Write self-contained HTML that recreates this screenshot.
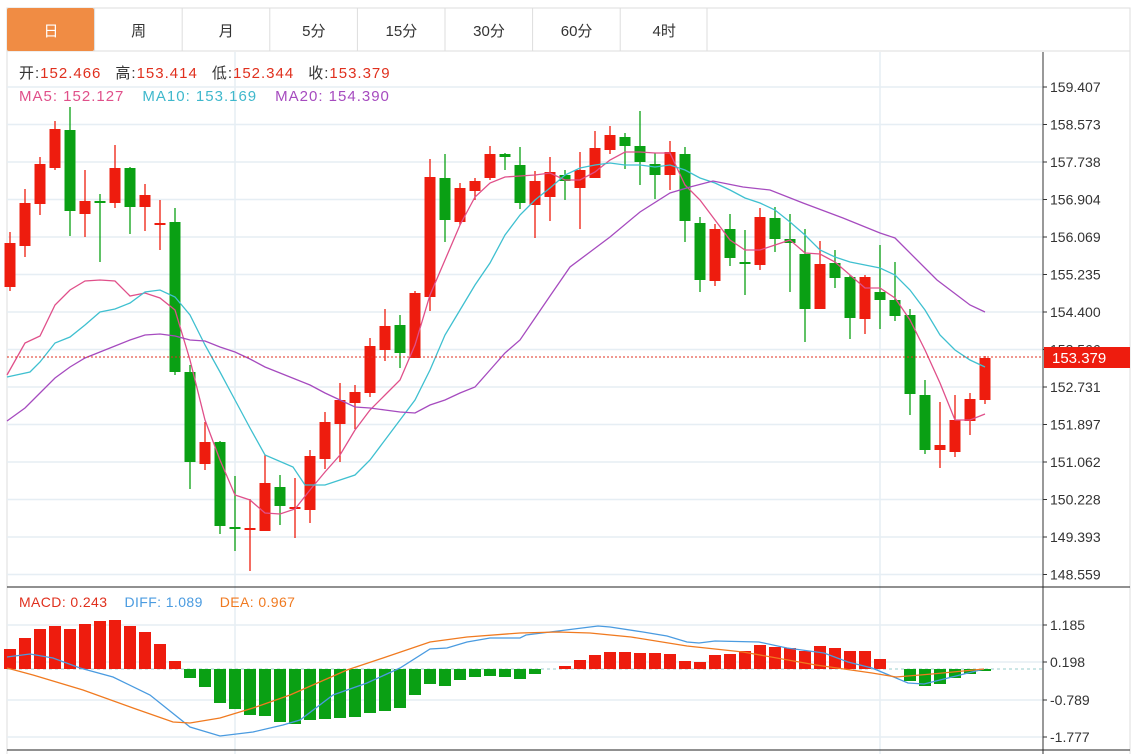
<!DOCTYPE html>
<html><head><meta charset="utf-8"><style>
body{margin:0;background:#fff;width:1141px;height:754px;overflow:hidden;font-family:"Liberation Sans","Noto Sans CJK SC",sans-serif}
svg{position:absolute;left:0;top:0}
</style></head><body>
<svg id="s" width="1141" height="754" xmlns="http://www.w3.org/2000/svg" font-family="Liberation Sans, Noto Sans CJK SC, sans-serif"></svg>
<script>
const s=document.getElementById('s');let h='';
h+='<rect x="7" y="8" width="1123" height="43" fill="#fff" stroke="#ddd"/>';
h+='<rect x="7" y="8" width="87" height="43" rx="2" fill="#f08c44"/>';
const tabs=['日','周','月','5分','15分','30分','60分','4时'];
tabs.forEach((t,i)=>{const x=7+i*87.6;if(i>0)h+=`<line x1="${x}" y1="8" x2="${x}" y2="51" stroke="#ddd"/>`;
h+=`<text x="${x+44}" y="36" text-anchor="middle" font-size="15" fill="${i==0?'#fff':'#333'}">${t}</text>`});
h+='<line x1="707" y1="8" x2="707" y2="51" stroke="#ddd"/>';
h+='<line x1="7" y1="51" x2="7" y2="754" stroke="#ddd"/><line x1="1130" y1="51" x2="1130" y2="754" stroke="#ddd"/>';
const pl=['159.407','158.573','157.738','156.904','156.069','155.235','154.400','153.566','152.731','151.897','151.062','150.228','149.393','148.559'];
pl.forEach((p,i)=>{const y=87+i*37.5;h+=`<line x1="7" y1="${y}" x2="1043" y2="${y}" stroke="#e6eef4" stroke-width="1.5"/><line x1="1043" y1="${y}" x2="1047" y2="${y}" stroke="#333"/><text x="1050" y="${y+5}" font-size="14" fill="#333">${p}</text>`});
[625,662,700,737].forEach((y,i)=>{h+=`<line x1="7" y1="${y}" x2="1043" y2="${y}" stroke="#e6eef4" stroke-width="1.5"/><line x1="1043" y1="${y}" x2="1047" y2="${y}" stroke="#333"/><text x="1050" y="${y+5}" font-size="14" fill="#333">${['1.185','0.198','-0.789','-1.777'][i]}</text>`});
h+='<line x1="235" y1="52" x2="235" y2="754" stroke="#e6eef4" stroke-width="1.5"/><line x1="880" y1="52" x2="880" y2="754" stroke="#e6eef4" stroke-width="1.5"/>';
h+='<line x1="1043" y1="52" x2="1043" y2="754" stroke="#333"/>';
h+='<line x1="7" y1="587" x2="1130" y2="587" stroke="#222"/><line x1="7" y1="750" x2="1130" y2="750" stroke="#222"/>';
const c=[['r',243,287,232,291],['r',203,246,189,257],['r',164,204,157,215],['r',129,168,121,170],['g',130,211,107,236],['r',201,214,170,237],['g',201,202,194,262],['r',168,203,145,208],['g',168,207,167,234],['r',195,207,184,231],['r',223,225,200,250],['g',222,372,208,375],['g',372,462,365,489],['r',442,464,422,470],['g',442,526,441,534],['g',527,529,476,551],['r',528,530,499,571],['r',483,531,455,531],['g',487,506,475,525],['r',507,509,478,538],['r',456,510,450,523],['r',422,459,412,469],['r',400,424,383,462],['r',392,403,385,429],['r',346,393,338,397],['r',326,350,309,361],['g',325,353,315,368],['r',293,358,291,358],['r',177,297,159,311],['g',178,220,154,242],['r',188,222,183,225],['r',181,191,178,200],['r',154,178,146,180],['g',154,157,153,170],['g',165,203,147,209],['r',181,205,171,238],['r',172,197,157,221],['g',175,181,170,200],['r',170,188,152,229],['r',148,178,131,178],['r',135,150,126,154],['g',137,146,133,169],['g',146,162,111,185],['g',164,175,153,199],['r',152,175,141,190],['g',154,221,147,242],['g',223,280,217,292],['r',229,281,224,286],['g',229,258,214,266],['g',262,264,230,295],['r',217,265,208,270],['g',218,239,207,252],['g',239,243,214,292],['g',254,309,229,342],['r',264,309,241,309],['g',263,278,250,288],['g',277,318,275,339],['r',277,319,275,334],['g',292,300,245,329],['g',300,316,262,321],['g',315,394,309,415],['g',395,450,380,454],['r',445,450,402,468],['r',420,452,395,457],['r',399,421,393,435],['r',358,400,356,404]];
c.forEach((d,i)=>{const x=10+i*15,col=d[0]=='r'?'#ee1c0e':'#0aa014';
h+=`<line x1="${x}" y1="${d[3]}" x2="${x}" y2="${d[4]}" stroke="${col}" stroke-width="1.3"/><rect x="${x-5.5}" y="${d[1]}" width="11" height="${Math.max(d[2]-d[1],2)}" fill="${col}"/>`});
const pl2=(pts,col)=>h+=`<polyline points="${pts}" fill="none" stroke="${col}" stroke-width="1.3"/>`;
pl2('7,375 25,343 40,336 55,305 70,290 85,281 100,280 115,281 130,296 145,293 160,298 175,310 190,360 205,420 220,460 235,495 250,500 265,513 280,514 295,509 310,490 325,472 340,455 355,430 370,410 385,395 400,380 415,345 430,295 445,260 460,225 475,197 490,183 505,177 520,176 535,175 550,173 565,180 580,180 595,172 610,160 625,152 640,152 655,153 670,153 685,185 700,200 715,220 730,240 745,250 760,250 775,245 790,240 805,253 820,254 835,262 850,275 865,288 880,288 895,298 910,320 925,350 940,383 955,420 970,420 985,414','#e0508a');
pl2('7,377 30,372 40,362 55,343 70,337 85,325 100,312 115,309 130,303 145,292 160,290 175,297 190,315 205,345 220,372 235,400 250,428 265,455 293,467 305,485 325,485 340,480 355,475 370,460 385,440 400,420 415,400 430,370 445,335 460,310 475,285 490,263 505,235 520,215 535,200 550,188 565,175 580,168 595,165 610,163 625,165 640,165 655,167 670,165 685,170 700,178 715,183 730,190 745,198 760,203 775,210 790,222 805,235 820,250 835,257 850,262 865,265 880,268 895,275 910,290 925,310 940,335 955,350 970,360 985,367','#3fc0d0');
pl2('7,421 25,408 40,393 55,378 70,367 85,358 100,352 115,346 130,340 145,335 160,334 175,336 190,340 205,341 220,347 235,352 250,359 265,367 280,373 295,379 310,385 325,393 340,400 355,407 370,408 385,410 400,412 415,413 430,405 445,400 460,393 475,387 490,370 505,353 520,340 535,318 550,296 570,267 590,252 610,237 640,212 670,193 690,187 713,181 743,187 770,190 803,203 843,218 880,233 895,238 937,280 970,305 985,312','#a64bbf');
h+='<line x1="7" y1="357" x2="1043" y2="357" stroke="#e03020" stroke-dasharray="2,2"/>';
h+='<rect x="1044" y="347" width="86" height="21" fill="#ee1c0e"/><text x="1052" y="363" font-size="15" fill="#fff">153.379</text>';
h+='<text x="19" y="78" font-size="15" letter-spacing="1"><tspan fill="#333">开:</tspan><tspan fill="#e0301e">152.466</tspan><tspan fill="#333" dx="14">高:</tspan><tspan fill="#e0301e">153.414</tspan><tspan fill="#333" dx="14">低:</tspan><tspan fill="#e0301e">152.344</tspan><tspan fill="#333" dx="14">收:</tspan><tspan fill="#e0301e">153.379</tspan></text>';
h+='<text x="19" y="101" font-size="15" letter-spacing="1"><tspan fill="#e0508a">MA5: 152.127</tspan><tspan fill="#3fb8cc" dx="18">MA10: 153.169</tspan><tspan fill="#a64bbf" dx="18">MA20: 154.390</tspan></text>';
h+='<line x1="7" y1="669" x2="1043" y2="669" stroke="#9cc" stroke-dasharray="3,3"/>';
const mt={1:649,2:638,3:629,4:626,5:629,6:624,7:621,8:620,9:626,10:632,11:644,12:661,13:678,14:687,15:703,16:709,17:715,18:716,19:722,20:724,21:720,22:719,23:718,24:717,25:713,26:711,27:708,28:695,29:684,30:686,31:680,32:677,33:676,34:677,35:679,36:674,38:666,39:660,40:655,41:652,42:652,43:653,44:653,45:654,46:661,47:662,48:655,49:654,50:651,51:645,52:647,53:648,54:651,55:646,56:648,57:651,58:651,59:659,61:681,62:686,63:684,64:678,65:674,66:671};
for(const k in mt){const i=k-1,x=10+i*15,v=mt[k];if(v<669)h+=`<rect x="${x-6}" y="${v}" width="12" height="${669-v}" fill="#ee1c0e"/>`;else h+=`<rect x="${x-6}" y="669" width="12" height="${v-669}" fill="#0aa014"/>`}
pl2('7,657 30,654 53,658 80,668 113,677 150,695 190,727 220,736 253,732 283,725 300,720 333,695 367,683 400,668 430,649 447,648 467,642 490,638 520,638 526,635 558,631 598,626 610,627 643,632 667,636 687,642 699,643 715,641 759,642 787,648 824,653 848,662 872,668 908,683 924,684 952,677 984,669','#4a9be0');
pl2('7,668 33,675 83,690 133,708 173,722 190,723 220,718 253,708 290,695 347,670 383,658 430,642 467,637 520,633 558,632 590,633 631,637 687,646 743,652 816,665 872,673 896,677 932,674 984,669','#f07a20');
h+='<text x="19" y="607" font-size="14" letter-spacing="0.4"><tspan fill="#e0301e">MACD: 0.243</tspan><tspan fill="#4a9be0" dx="17">DIFF: 1.089</tspan><tspan fill="#f07a20" dx="17">DEA: 0.967</tspan></text>';
s.innerHTML=h;
</script>
</body></html>
